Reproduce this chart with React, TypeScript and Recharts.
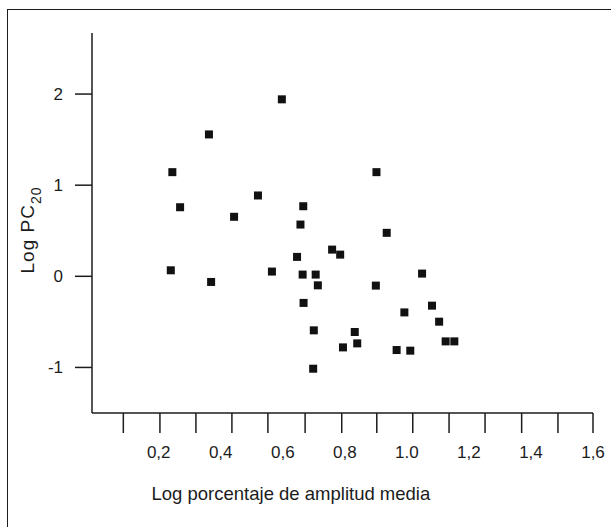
import { Label, Scatter, ScatterChart, XAxis, YAxis } from "recharts";

// Log porcentaje de amplitud media (x) vs Log PC20 (y)
const logAmplitude = [
  0.244, 0.239, 0.269, 0.362, 0.369, 0.443, 0.52, 0.597, 0.565, 0.646, 0.657, 0.666,
  0.664, 0.667, 0.706, 0.713, 0.7, 0.698, 0.759, 0.785, 0.794, 0.832, 0.84, 0.902,
  0.9, 0.935, 0.967, 0.992, 1.011, 1.049, 1.081, 1.104, 1.125, 1.153,
];
const logPC20 = [
  1.143, 0.066, 0.758, 1.557, -0.062, 0.653, 0.887, 1.942, 0.052, 0.213, 0.568, 0.769,
  0.019, -0.292, 0.019, -0.099, -0.593, -1.014, 0.293, 0.238, -0.78, -0.611, -0.736, 1.143,
  -0.102, 0.477, -0.809, -0.396, -0.816, 0.03, -0.322, -0.498, -0.714, -0.714,
];

const xLabelTicks = [0.2, 0.4, 0.6, 0.8, 1.0, 1.2, 1.4, 1.6];
const xLabelText = ["0,2", "0,4", "0,6", "0,8", "1.0", "1,2", "1,4", "1,6"];
// the printed tick marks don't sit on the labels in the original
const xMarkTicks = [0.086, 0.204, 0.32, 0.436, 0.552, 0.672, 0.79, 0.903, 1.019, 1.136, 1.252, 1.37, 1.487, 1.6];
const yTicks = [-1, 0, 1, 2];

const data = logAmplitude.map((x, i) => ({ x, y: logPC20[i] }));
const allXTicks = Array.from(new Set([...xMarkTicks, ...xLabelTicks])).sort((a, b) => a - b);

const INK = "#1c1c1c";
const FONT = "'Liberation Sans', Arial, sans-serif";

function XTick({ x, y, payload }: any) {
  const v = payload.value;
  const li = xLabelTicks.indexOf(v);
  return (
    <g>
      {xMarkTicks.includes(v) && <line x1={x} x2={x} y1={y} y2={y + 20} stroke={INK} strokeWidth={1.5} />}
      {li >= 0 && (
        <text x={x} y={y + 45} textAnchor="middle" fontSize={17} fill={INK} fontFamily={FONT}>
          {xLabelText[li]}
        </text>
      )}
    </g>
  );
}

function Square({ cx, cy }: any) {
  return <rect x={cx - 4} y={cy - 4} width={8} height={8} fill="#111" />;
}

export default function App() {
  return (
    <div style={{ position: "absolute", left: 0, top: 0, width: 611, height: 527, overflow: "hidden", background: "#fff" }}>
      <div
        style={{
          position: "absolute",
          left: 7,
          top: 9,
          width: 700,
          height: 700,
          borderLeft: `1.5px solid ${INK}`,
          borderTop: `1.5px solid ${INK}`,
        }}
      />
      <div style={{ position: "absolute", left: 0, top: 0 }}>
        <ScatterChart width={611} height={527} margin={{ top: 33, right: 18, bottom: 14, left: 0 }}>
          <XAxis
            type="number"
            dataKey="x"
            domain={[-0.015, 1.6]}
            ticks={allXTicks}
            interval={0}
            height={100}
            tickSize={0}
            tickMargin={0}
            tickLine={false}
            tick={<XTick />}
            axisLine={{ stroke: INK, strokeWidth: 1.5 }}
          >
            <Label
              content={(p: any) => {
                const vb = p.viewBox;
                return (
                  <text x={vb.x + vb.width * 0.397} y={vb.y + 87} textAnchor="middle" fontSize={18.5} fill={INK} fontFamily={FONT}>
                    Log porcentaje de amplitud media
                  </text>
                );
              }}
            />
          </XAxis>
          <YAxis
            type="number"
            dataKey="y"
            domain={[-1.5, 2.67]}
            ticks={yTicks}
            interval={0}
            width={92}
            tickSize={17}
            tickMargin={12}
            tick={{ fontSize: 17, fill: INK, fontFamily: FONT }}
            tickLine={{ stroke: INK, strokeWidth: 1.5 }}
            axisLine={{ stroke: INK, strokeWidth: 1.5 }}
          >
            <Label
              content={(p: any) => {
                const vb = p.viewBox;
                const cy = vb.y + vb.height / 2 + 7;
                return (
                  <text transform="rotate(-90)" x={-cy} y={34} textAnchor="middle" fontSize={19} letterSpacing={1} fill={INK} fontFamily={FONT}>
                    Log PC
                    <tspan fontSize={14} dy={7}>20</tspan>
                  </text>
                );
              }}
            />
          </YAxis>
          <Scatter data={data} shape={<Square />} isAnimationActive={false} />
        </ScatterChart>
      </div>
    </div>
  );
}
